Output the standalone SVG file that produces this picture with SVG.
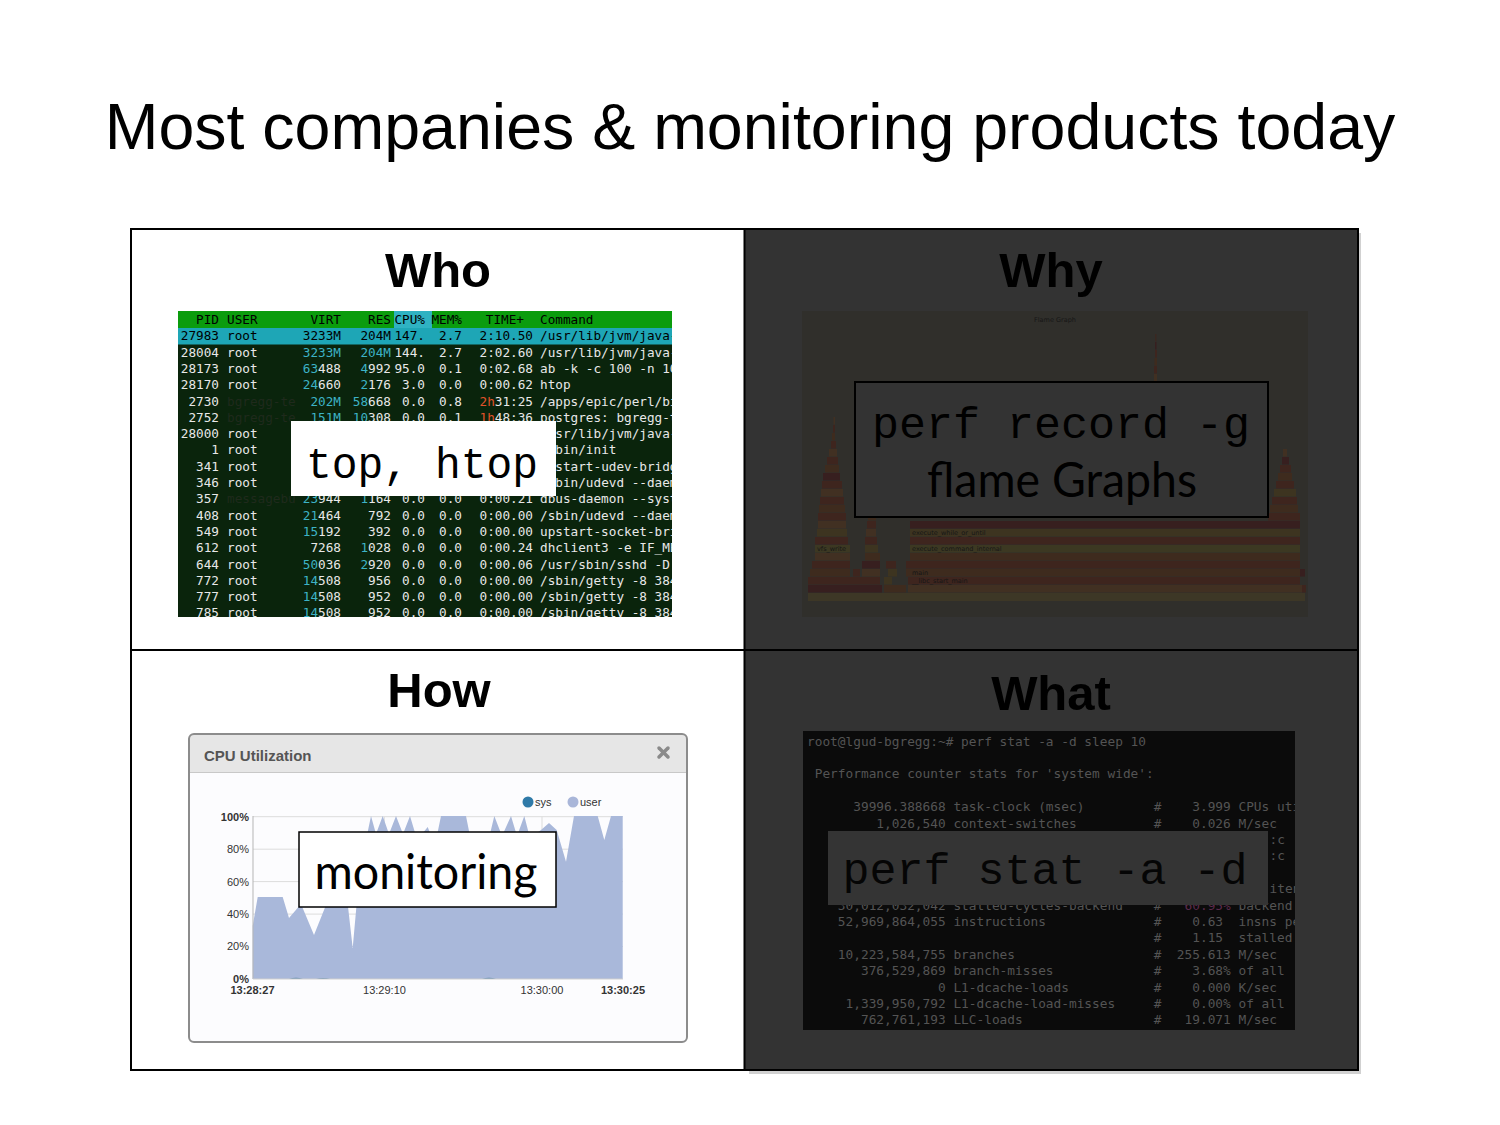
<svg xmlns="http://www.w3.org/2000/svg" width="1500" height="1125" viewBox="0 0 1500 1125">
<style>
.title{font-family:"Liberation Sans",Arial,sans-serif;font-size:64.5px}
.head{font-family:"Liberation Sans",Arial,sans-serif;font-size:49px;font-weight:bold;text-anchor:middle}
.ht{font-family:"DejaVu Sans Mono",monospace;font-size:12.7px}
.big{font-family:"Liberation Mono","Courier New",monospace;font-size:45px}
.cal{font-family:Lato,"Open Sans",sans-serif;font-size:48px}
.term{font-family:"DejaVu Sans Mono",monospace;font-size:12.8px;fill:#545454}
.ax{font-family:"Liberation Sans",Arial,sans-serif;font-size:11px;fill:#333}
.fl{font-family:"DejaVu Sans",sans-serif;font-size:6.5px;fill:#161616}
</style>
<defs>
<clipPath id="htclip"><rect x="178" y="311" width="494" height="306"/></clipPath>
<clipPath id="termclip"><rect x="803" y="731" width="492" height="299"/></clipPath>
</defs>
<rect width="1500" height="1125" fill="#fff"/>
<text class="title" x="750" y="149" text-anchor="middle">Most companies &amp; monitoring products today</text>

<!-- right half dark + shadow -->
<rect x="749" y="233" width="612" height="841" fill="#000" opacity="0.18"/>
<rect x="745" y="230" width="613" height="840" fill="#333"/>

<!-- WHO -->
<g id="who">
<text class="head" x="438" y="287">Who</text>
<g clip-path="url(#htclip)">
<rect x="178" y="311" width="494" height="306" fill="#0a240c"/>
<rect x="178" y="311" width="494" height="17" fill="#0b9c0d"/>
<rect x="394" y="311" width="38" height="17" fill="#2fb2c2"/>
<rect x="178" y="328" width="494" height="16.5" fill="#1ea6b6"/>
<text class="ht" y="324" fill="#000"><tspan x="219" text-anchor="end">PID</tspan><tspan x="227">USER</tspan><tspan x="341" text-anchor="end">VIRT</tspan><tspan x="391" text-anchor="end">RES</tspan><tspan x="425" text-anchor="end">CPU%</tspan><tspan x="462" text-anchor="end">MEM%</tspan><tspan x="524" text-anchor="end">TIME+</tspan><tspan x="540">Command</tspan></text>
<text class="ht" y="340.3" fill="#000"><tspan x="219" text-anchor="end">27983</tspan><tspan x="227">root</tspan><tspan x="341" text-anchor="end">3233M</tspan><tspan x="391" text-anchor="end">204M</tspan><tspan x="425" text-anchor="end">147.</tspan><tspan x="462" text-anchor="end">2.7</tspan><tspan x="533" text-anchor="end">2:10.50</tspan><tspan x="540">/usr/lib/jvm/java-</tspan></text>
<text class="ht" y="356.6" fill="#e8e8e8"><tspan x="219" text-anchor="end">28004</tspan><tspan x="227">root</tspan><tspan x="341" text-anchor="end" fill="#3db3c6">3233M</tspan><tspan x="391" text-anchor="end" fill="#3db3c6">204M</tspan><tspan x="425" text-anchor="end">144.</tspan><tspan x="462" text-anchor="end">2.7</tspan><tspan x="533" text-anchor="end">2:02.60</tspan><tspan x="540">/usr/lib/jvm/java-</tspan></text>
<text class="ht" y="372.9" fill="#e8e8e8"><tspan x="219" text-anchor="end">28173</tspan><tspan x="227">root</tspan><tspan x="341" text-anchor="end" fill="#3db3c6">63</tspan><tspan>488</tspan><tspan x="391" text-anchor="end" fill="#3db3c6">4</tspan><tspan>992</tspan><tspan x="425" text-anchor="end">95.0</tspan><tspan x="462" text-anchor="end">0.1</tspan><tspan x="533" text-anchor="end">0:02.68</tspan><tspan x="540">ab -k -c 100 -n 10</tspan></text>
<text class="ht" y="389.2" fill="#e8e8e8"><tspan x="219" text-anchor="end">28170</tspan><tspan x="227">root</tspan><tspan x="341" text-anchor="end" fill="#3db3c6">24</tspan><tspan>660</tspan><tspan x="391" text-anchor="end" fill="#3db3c6">2</tspan><tspan>176</tspan><tspan x="425" text-anchor="end">3.0</tspan><tspan x="462" text-anchor="end">0.0</tspan><tspan x="533" text-anchor="end">0:00.62</tspan><tspan x="540">htop</tspan></text>
<text class="ht" y="405.5" fill="#e8e8e8"><tspan x="219" text-anchor="end">2730</tspan><tspan x="227" fill="#1f2a1c">bgregg-te</tspan><tspan x="341" text-anchor="end" fill="#3db3c6">202M</tspan><tspan x="391" text-anchor="end" fill="#3db3c6">58</tspan><tspan>668</tspan><tspan x="425" text-anchor="end">0.0</tspan><tspan x="462" text-anchor="end">0.8</tspan><tspan x="533" text-anchor="end" fill="#e2532a">2h</tspan><tspan>31:25</tspan><tspan x="540">/apps/epic/perl/bi</tspan></text>
<text class="ht" y="421.8" fill="#e8e8e8"><tspan x="219" text-anchor="end">2752</tspan><tspan x="227" fill="#1f2a1c">bgregg-te</tspan><tspan x="341" text-anchor="end" fill="#3db3c6">151M</tspan><tspan x="391" text-anchor="end" fill="#3db3c6">10</tspan><tspan>308</tspan><tspan x="425" text-anchor="end">0.0</tspan><tspan x="462" text-anchor="end">0.1</tspan><tspan x="533" text-anchor="end" fill="#e2532a">1h</tspan><tspan>48:36</tspan><tspan x="540">postgres: bgregg-t</tspan></text>
<text class="ht" y="438.1" fill="#e8e8e8"><tspan x="219" text-anchor="end">28000</tspan><tspan x="227">root</tspan><tspan x="555.3">sr/lib/jvm/java-</tspan></text>
<text class="ht" y="454.4" fill="#e8e8e8"><tspan x="219" text-anchor="end">1</tspan><tspan x="227">root</tspan><tspan x="555.3">bin/init</tspan></text>
<text class="ht" y="470.7" fill="#e8e8e8"><tspan x="219" text-anchor="end">341</tspan><tspan x="227">root</tspan><tspan x="555.3">start-udev-bridg</tspan></text>
<text class="ht" y="487" fill="#e8e8e8"><tspan x="219" text-anchor="end">346</tspan><tspan x="227">root</tspan><tspan x="555.3">bin/udevd --daem</tspan></text>
<text class="ht" y="503.3" fill="#e8e8e8"><tspan x="219" text-anchor="end">357</tspan><tspan x="227" fill="#1f2a1c">messagebu</tspan><tspan x="341" text-anchor="end" fill="#3db3c6">23</tspan><tspan>944</tspan><tspan x="391" text-anchor="end" fill="#3db3c6">1</tspan><tspan>164</tspan><tspan x="425" text-anchor="end">0.0</tspan><tspan x="462" text-anchor="end">0.0</tspan><tspan x="533" text-anchor="end">0:00.21</tspan><tspan x="540">dbus-daemon --syst</tspan></text>
<text class="ht" y="519.6" fill="#e8e8e8"><tspan x="219" text-anchor="end">408</tspan><tspan x="227">root</tspan><tspan x="341" text-anchor="end" fill="#3db3c6">21</tspan><tspan>464</tspan><tspan x="391" text-anchor="end">792</tspan><tspan x="425" text-anchor="end">0.0</tspan><tspan x="462" text-anchor="end">0.0</tspan><tspan x="533" text-anchor="end">0:00.00</tspan><tspan x="540">/sbin/udevd --daem</tspan></text>
<text class="ht" y="535.9" fill="#e8e8e8"><tspan x="219" text-anchor="end">549</tspan><tspan x="227">root</tspan><tspan x="341" text-anchor="end" fill="#3db3c6">15</tspan><tspan>192</tspan><tspan x="391" text-anchor="end">392</tspan><tspan x="425" text-anchor="end">0.0</tspan><tspan x="462" text-anchor="end">0.0</tspan><tspan x="533" text-anchor="end">0:00.00</tspan><tspan x="540">upstart-socket-bri</tspan></text>
<text class="ht" y="552.2" fill="#e8e8e8"><tspan x="219" text-anchor="end">612</tspan><tspan x="227">root</tspan><tspan x="341" text-anchor="end">7268</tspan><tspan x="391" text-anchor="end" fill="#3db3c6">1</tspan><tspan>028</tspan><tspan x="425" text-anchor="end">0.0</tspan><tspan x="462" text-anchor="end">0.0</tspan><tspan x="533" text-anchor="end">0:00.24</tspan><tspan x="540">dhclient3 -e IF_ME</tspan></text>
<text class="ht" y="568.5" fill="#e8e8e8"><tspan x="219" text-anchor="end">644</tspan><tspan x="227">root</tspan><tspan x="341" text-anchor="end" fill="#3db3c6">50</tspan><tspan>036</tspan><tspan x="391" text-anchor="end" fill="#3db3c6">2</tspan><tspan>920</tspan><tspan x="425" text-anchor="end">0.0</tspan><tspan x="462" text-anchor="end">0.0</tspan><tspan x="533" text-anchor="end">0:00.06</tspan><tspan x="540">/usr/sbin/sshd -D</tspan></text>
<text class="ht" y="584.8" fill="#e8e8e8"><tspan x="219" text-anchor="end">772</tspan><tspan x="227">root</tspan><tspan x="341" text-anchor="end" fill="#3db3c6">14</tspan><tspan>508</tspan><tspan x="391" text-anchor="end">956</tspan><tspan x="425" text-anchor="end">0.0</tspan><tspan x="462" text-anchor="end">0.0</tspan><tspan x="533" text-anchor="end">0:00.00</tspan><tspan x="540">/sbin/getty -8 384</tspan></text>
<text class="ht" y="601.1" fill="#e8e8e8"><tspan x="219" text-anchor="end">777</tspan><tspan x="227">root</tspan><tspan x="341" text-anchor="end" fill="#3db3c6">14</tspan><tspan>508</tspan><tspan x="391" text-anchor="end">952</tspan><tspan x="425" text-anchor="end">0.0</tspan><tspan x="462" text-anchor="end">0.0</tspan><tspan x="533" text-anchor="end">0:00.00</tspan><tspan x="540">/sbin/getty -8 384</tspan></text>
<text class="ht" y="617.4" fill="#e8e8e8"><tspan x="219" text-anchor="end">785</tspan><tspan x="227">root</tspan><tspan x="341" text-anchor="end" fill="#3db3c6">14</tspan><tspan>508</tspan><tspan x="391" text-anchor="end">952</tspan><tspan x="425" text-anchor="end">0.0</tspan><tspan x="462" text-anchor="end">0.0</tspan><tspan x="533" text-anchor="end">0:00.00</tspan><tspan x="540">/sbin/getty -8 384</tspan></text>
</g>
<rect x="291" y="421" width="265" height="75" fill="#fff"/>
<text class="big" x="306" y="478" font-size="43" textLength="232" lengthAdjust="spacingAndGlyphs">top, htop</text>
</g>

<!-- WHY -->
<g id="why">
<text class="head" x="1051" y="287">Why</text>
<rect x="802" y="311" width="506" height="306" fill="#302f2b"/>
<text class="fl" x="1055" y="322" text-anchor="middle" font-size="8">Flame Graph</text>
<g opacity="0.5">
<rect x="808" y="593" width="497" height="8" fill="#4a3f22"/>
<rect x="808" y="585" width="74" height="7.5" fill="#3f1014"/><rect x="884" y="585" width="22" height="7.5" fill="#4c2812"/><rect x="908" y="585" width="394" height="7.5" fill="#52321a"/><rect x="1302" y="585" width="4" height="7.5" fill="#4d1d12"/>
<rect x="808" y="577" width="72" height="7.5" fill="#4d1d12"/><rect x="884" y="577" width="8" height="7.5" fill="#4a3a16"/><rect x="908" y="577" width="392" height="7.5" fill="#4d1d12"/>
<rect x="810" y="569" width="40" height="7.5" fill="#4c2812"/><rect x="853" y="569" width="7" height="7.5" fill="#4d1d12"/><rect x="862" y="569" width="18" height="7.5" fill="#52321a"/><rect x="888" y="569" width="9" height="7.5" fill="#4a3a16"/><rect x="906" y="569" width="394" height="7.5" fill="#4c2812"/><rect x="1300" y="569" width="5" height="7.5" fill="#3f1014"/>
<rect x="812" y="561" width="38" height="7.5" fill="#4d1d12"/><rect x="862" y="561" width="18" height="7.5" fill="#3f1014"/><rect x="886" y="561" width="10" height="7.5" fill="#4d1d12"/><rect x="906" y="561" width="394" height="7.5" fill="#4d1d12"/>
<rect x="815" y="553" width="35" height="7.5" fill="#52321a"/><rect x="865" y="553" width="15" height="7.5" fill="#4c2812"/><rect x="910" y="553" width="390" height="7.5" fill="#4c2812"/>
<rect x="815" y="545" width="35" height="7.5" fill="#48421a"/><rect x="865" y="545" width="13" height="7.5" fill="#4a3a16"/><rect x="910" y="545" width="390" height="7.5" fill="#48421a"/>
<rect x="815" y="537" width="33" height="7.5" fill="#4d1d12"/><rect x="865" y="537" width="12" height="7.5" fill="#4d1d12"/><rect x="910" y="537" width="390" height="7.5" fill="#4d1d12"/>
<rect x="817" y="529" width="30" height="7.5" fill="#4a3a16"/><rect x="866" y="529" width="10" height="7.5" fill="#52321a"/><rect x="910" y="529" width="390" height="7.5" fill="#4a3a16"/>
<rect x="818" y="521" width="28" height="7.5" fill="#52321a"/><rect x="867" y="521" width="9" height="7.5" fill="#4d1d12"/><rect x="910" y="521" width="390" height="7.5" fill="#3f1014"/>
<rect x="818" y="513" width="28" height="7.5" fill="#4d1d12"/><rect x="868" y="513" width="8" height="7.5" fill="#4c2812"/><rect x="1268" y="513" width="32" height="7.5" fill="#4d1d12"/>
<rect x="819" y="505" width="26" height="7.5" fill="#4c2812"/><rect x="869" y="505" width="6" height="7.5" fill="#4d1d12"/><rect x="1270" y="505" width="28" height="7.5" fill="#4c2812"/>
<rect x="820" y="497" width="24" height="7.5" fill="#4d1d12"/><rect x="1272" y="497" width="25" height="7.5" fill="#4d1d12"/>
<rect x="821" y="489" width="22" height="7.5" fill="#52321a"/><rect x="1274" y="489" width="22" height="7.5" fill="#4a3a16"/>
<rect x="822" y="481" width="20" height="7.5" fill="#4d1d12"/><rect x="1276" y="481" width="18" height="7.5" fill="#4d1d12"/>
<rect x="823" y="473" width="17" height="7.5" fill="#3f1014"/><rect x="1278" y="473" width="14" height="7.5" fill="#4c2812"/>
<rect x="825" y="465" width="14" height="7.5" fill="#4c2812"/><rect x="1280" y="465" width="11" height="7.5" fill="#4d1d12"/>
<rect x="827" y="457" width="11" height="7.5" fill="#4d1d12"/><rect x="1282" y="457" width="7" height="7.5" fill="#3f1014"/>
<rect x="829" y="449" width="8" height="7.5" fill="#52321a"/><rect x="1283" y="449" width="4" height="7.5" fill="#52321a"/>
<rect x="831" y="441" width="5" height="7.5" fill="#4d1d12"/>
<rect x="832" y="433" width="3" height="7.5" fill="#4c2812"/>
<rect x="833" y="425" width="2" height="7.5" fill="#4d1d12"/>
<rect x="833.5" y="417" width="1.5" height="7.5" fill="#52321a"/>
<rect x="1154" y="374" width="3" height="7.5" fill="#52321a"/><rect x="1154" y="366" width="3" height="7.5" fill="#4d1d12"/><rect x="1154.5" y="358" width="2.5" height="7.5" fill="#4c2812"/><rect x="1155" y="350" width="2" height="7.5" fill="#4d1d12"/><rect x="1155" y="342" width="1.5" height="7.5" fill="#3f1014"/><rect x="1155.3" y="334" width="1" height="7.5" fill="#4d1d12"/>
</g>
<text class="fl" x="912" y="583">__libc_start_main</text>
<text class="fl" x="912" y="575">main</text>
<text class="fl" x="912" y="551">execute_command_internal</text>
<text class="fl" x="912" y="535">execute_while_or_until</text>
<text class="fl" x="817" y="551">vfs_write</text>
<rect x="855" y="382" width="413" height="135" fill="#333" stroke="#000" stroke-width="2"/>
<text class="big" x="1061" y="438" text-anchor="middle">perf record -g</text>
<text class="cal" x="1062" y="497" text-anchor="middle" textLength="270" lengthAdjust="spacingAndGlyphs">flame Graphs</text>
</g>

<!-- HOW -->
<g id="how">
<text class="head" x="439" y="707">How</text>
<rect x="189" y="734" width="498" height="308" rx="5" fill="#fcfcfe"/>
<path d="M189,772.5 V739 a5,5 0 0 1 5,-5 H682 a5,5 0 0 1 5,5 V772.5 Z" fill="#e6e6e6"/>
<line x1="189" y1="772.5" x2="687" y2="772.5" stroke="#c8c8c8" stroke-width="1"/>
<rect x="189" y="734" width="498" height="308" rx="5" fill="none" stroke="#8c8c8c" stroke-width="2"/>
<text x="204" y="761" font-family="Liberation Sans, Arial, sans-serif" font-size="15" font-weight="bold" fill="#555">CPU Utilization</text>
<g stroke="#8a8a8a" stroke-width="3.5" stroke-linecap="round"><line x1="659" y1="748" x2="668" y2="757"/><line x1="668" y1="748" x2="659" y2="757"/></g>
<circle cx="528" cy="802" r="5.5" fill="#2f7aa8"/><text class="ax" x="535" y="806">sys</text>
<circle cx="573" cy="802" r="5.5" fill="#a9b6d9"/><text class="ax" x="580" y="806">user</text>
<g stroke="#dcdcdc" stroke-width="1">
<line x1="253" y1="816.7" x2="623" y2="816.7"/><line x1="253" y1="849.2" x2="623" y2="849.2"/><line x1="253" y1="881.6" x2="623" y2="881.6"/><line x1="253" y1="914.1" x2="623" y2="914.1"/><line x1="253" y1="946.5" x2="623" y2="946.5"/>
<line x1="384.3" y1="816.7" x2="384.3" y2="979"/><line x1="542" y1="816.7" x2="542" y2="979"/>
</g>
<polygon fill="#a9b8da" points="252.7,979 252.7,926 257.7,897 282.7,897 289,918 301,904 314,935 326,905 333,880 340,860 345,880 352.7,948 357,900 362,870 366,840 371,816 376,834 382.7,816 389,834 396,816 403,834 410,816 416,836 422,834 427.7,827 432,838 437.7,832 441,816 466,816 470,836 480,845 490,834 494.3,816 502,836 511,816 517,836 524.3,816 530,838 541,830 549,823 556.7,830 566,861.7 574,816 597.7,816 604.3,840 611,816 622.7,816 622.7,979"/>
<path d="M253,979 L289,979 Q296,976.5 303,979 L316,979 Q323,977 330,979 L482,979 Q489,976.5 496,979 L623,979 Z" fill="#3a6f98" opacity="0.7"/>
<line x1="253" y1="816" x2="253" y2="979" stroke="#b5b5b5" stroke-width="1"/>
<line x1="253" y1="979" x2="623" y2="979" stroke="#cfcfcf" stroke-width="1"/>
<text class="ax" x="249" y="821" text-anchor="end" font-weight="bold">100%</text>
<text class="ax" x="249" y="853" text-anchor="end">80%</text>
<text class="ax" x="249" y="886" text-anchor="end">60%</text>
<text class="ax" x="249" y="918" text-anchor="end">40%</text>
<text class="ax" x="249" y="950" text-anchor="end">20%</text>
<text class="ax" x="249" y="983" text-anchor="end" font-weight="bold">0%</text>
<text class="ax" x="252.5" y="994" text-anchor="middle" font-weight="bold">13:28:27</text>
<text class="ax" x="384.5" y="994" text-anchor="middle">13:29:10</text>
<text class="ax" x="542" y="994" text-anchor="middle">13:30:00</text>
<text class="ax" x="623" y="994" text-anchor="middle" font-weight="bold">13:30:25</text>
<rect x="299" y="832" width="257" height="75" fill="#fff" stroke="#000" stroke-width="1.5"/>
<text class="cal" x="426" y="889" text-anchor="middle" textLength="223" lengthAdjust="spacingAndGlyphs">monitoring</text>
</g>

<!-- WHAT -->
<g id="what">
<text class="head" x="1051" y="710">What</text>
<rect x="803" y="731" width="492" height="299" fill="#0b0b0b"/>
<g clip-path="url(#termclip)">
<text class="term" x="807" y="745.5" xml:space="preserve">root@lgud-bgregg:~# perf stat -a -d sleep 10</text>
<text class="term" x="807" y="778.3" xml:space="preserve"> Performance counter stats for 'system wide':</text>
<text class="term" x="807" y="811.1" xml:space="preserve">      39996.388668 task-clock (msec)         #    3.999 CPUs uti</text>
<text class="term" x="807" y="827.5" xml:space="preserve">         1,026,540 context-switches          #    0.026 M/sec</text>
<text class="term" x="1269.6" y="843.9">:c</text>
<text class="term" x="1269.6" y="860.3">:c</text>
<text class="term" x="1269.6" y="893.1">iten</text>
<text class="term" x="807" y="909.5" xml:space="preserve">    30,012,032,042 stalled-cycles-backend    #   <tspan fill="#5b2a4c">60.95%</tspan> backend</text>
<text class="term" x="807" y="925.9" xml:space="preserve">    52,969,864,055 instructions              #    0.63  insns pe</text>
<text class="term" x="807" y="942.3" xml:space="preserve">                                             #    1.15  stalled</text>
<text class="term" x="807" y="958.7" xml:space="preserve">    10,223,584,755 branches                  #  255.613 M/sec</text>
<text class="term" x="807" y="975.1" xml:space="preserve">       376,529,869 branch-misses             #    3.68% of all</text>
<text class="term" x="807" y="991.5" xml:space="preserve">                 0 L1-dcache-loads           #    0.000 K/sec</text>
<text class="term" x="807" y="1007.9" xml:space="preserve">     1,339,950,792 L1-dcache-load-misses     #    0.00% of all</text>
<text class="term" x="807" y="1024.3" xml:space="preserve">       762,761,193 LLC-loads                 #   19.071 M/sec</text>
</g>
<rect x="828" y="831" width="440" height="74" fill="#343434"/>
<text class="big" x="1045" y="884" text-anchor="middle" fill="#050505">perf stat -a -d</text>
</g>

<!-- frame -->
<g id="frame" fill="none" stroke="#000" stroke-width="2">
<rect x="131" y="229" width="1227" height="841"/>
<line x1="744.5" y1="229" x2="744.5" y2="1070"/>
<line x1="131" y1="650" x2="1358" y2="650"/>
</g>
</svg>
